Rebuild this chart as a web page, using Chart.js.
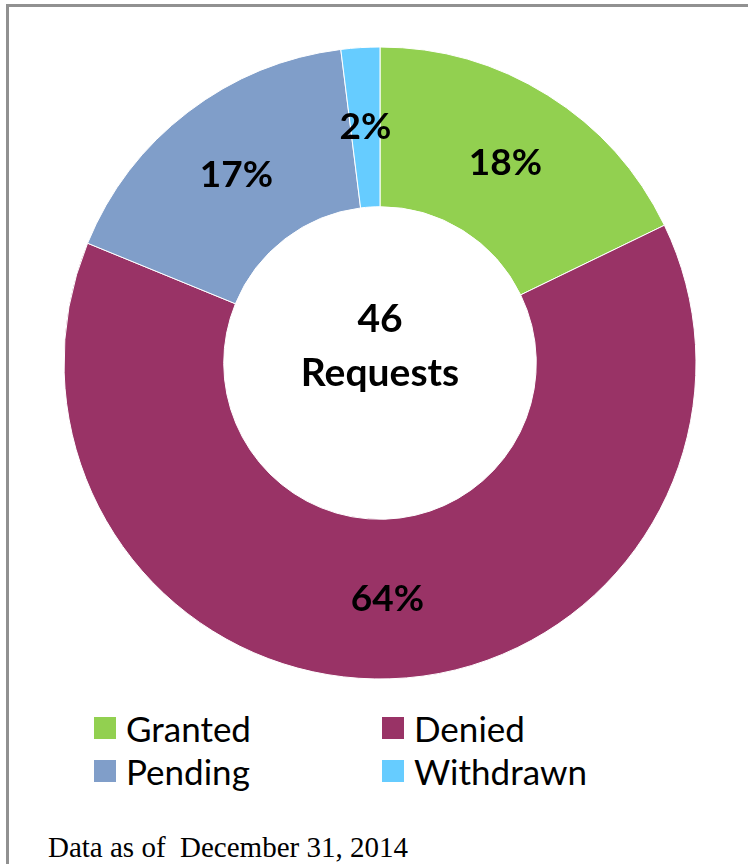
<!DOCTYPE html>
<html>
<head>
<meta charset="utf-8">
<script src="https://cdn.jsdelivr.net/npm/chart.js@4"></script>
<style>
	body {
		margin: 0;
		background: #fff;
		width: 748px;
		height: 864px;
		overflow: hidden;
		position: relative;
		font-family: Lato, 'Open Sans', sans-serif;
	}
	.frame {
		position: absolute;
		left: 6px;
		top: 4px;
		width: 800px;
		height: 900px;
		border-left: 3px solid #919191;
		border-top: 3px solid #919191;
	}
	.chart-box {
		position: absolute;
		left: 60px;
		top: 43px;
		width: 640px;
		height: 640px;
	}
	.legend-item {
		position: absolute;
		display: flex;
		align-items: center;
		height: 22px;
		font-size: 35px;
		color: #000;
		white-space: nowrap;
	}
	.legend-item span.box {
		display: inline-block;
		width: 22px;
		height: 22px;
		margin-right: 10px;
	}
	.note {
		position: absolute;
		left: 48px;
		top: 832px;
		font-family: 'Liberation Serif', 'Times New Roman', serif;
		font-size: 29px;
		line-height: 30px;
		white-space: pre;
		color: #000;
	}
</style>
</head>
<body>
<div class="frame"></div>
<div class="chart-box"><canvas id="requests-chart" width="640" height="640"></canvas></div>
<div id="legend"></div>
<div class="note">Data as of  December 31, 2014</div>

<script>
const categories = ['Granted', 'Denied', 'Pending', 'Withdrawn'];
const percents = [18, 64, 17, 2];
const sliceColors = ['#92D050', '#993366', '#809EC9', '#66CCFF'];
const centerLines = ['46', 'Requests'];

document.addEventListener('DOMContentLoaded', (event) => {
	requestsChart();
	buildLegend();
});

// percentage text on each slice, at the middle of the ring
const sliceLabels = {
	id: 'sliceLabels',
	afterDatasetsDraw(chart) {
		const ctx = chart.ctx;
		const meta = chart.getDatasetMeta(0);

		ctx.save();
		ctx.font = 'bold 37px Lato, sans-serif';
		ctx.fillStyle = '#000';
		ctx.textAlign = 'center';
		ctx.textBaseline = 'middle';
		meta.data.forEach((arc, i) => {
			const pos = arc.tooltipPosition();
			ctx.fillText(chart.data.datasets[0].data[i] + '%', pos.x, pos.y);
		});
		ctx.restore();
	},
};

// "46 Requests" in the hole
const centerText = {
	id: 'centerText',
	afterDraw(chart) {
		const ctx = chart.ctx;
		const arc = chart.getDatasetMeta(0).data[0];

		ctx.save();
		ctx.font = 'bold 39px Lato, sans-serif';
		ctx.fillStyle = '#000';
		ctx.textAlign = 'center';
		ctx.textBaseline = 'middle';
		ctx.fillText(centerLines[0], arc.x, arc.y - 44);
		ctx.fillText(centerLines[1], arc.x, arc.y + 10);
		ctx.restore();
	},
};

function requestsChart() {
	const ctx = document.getElementById('requests-chart');

	if (!ctx) {
		return;
	}

	new Chart(ctx, {
		type: 'doughnut',
		data: {
			labels: categories,
			datasets: [
				{
					data: percents,
					backgroundColor: sliceColors,
					borderColor: '#fff',
					borderWidth: 1,
					hoverOffset: 0,
					offset: 0,
				},
			],
		},
		options: {
			responsive: false,
			animation: false,
			radius: 316,
			cutout: 158,
			layout: {
				padding: 0,
			},
			plugins: {
				legend: {
					display: false,
				},
				tooltip: {
					enabled: false,
				},
			},
		},
		plugins: [sliceLabels, centerText],
	});
}

function buildLegend() {
	const legend = document.getElementById('legend');

	categories.forEach((name, i) => {
		const item = document.createElement('div');
		item.className = 'legend-item';
		item.style.left = (94 + (i % 2) * 288) + 'px';
		item.style.top = (717 + Math.floor(i / 2) * 43) + 'px';

		const box = document.createElement('span');
		box.className = 'box';
		box.style.background = sliceColors[i];

		item.appendChild(box);
		item.appendChild(document.createTextNode(name));
		legend.appendChild(item);
	});
}
</script>
</body>
</html>
